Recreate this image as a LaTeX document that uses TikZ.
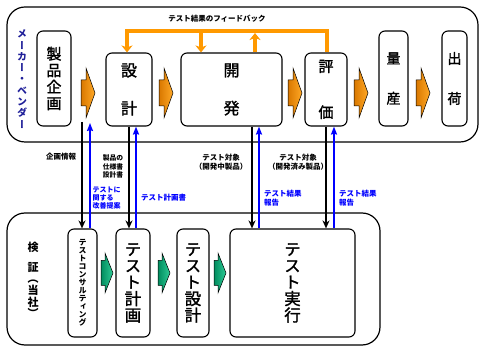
\documentclass[tikz,border=0pt]{standalone}
\usepackage{fontspec}
\setmainfont{Noto Sans CJK JP}
\newfontfamily\jpv{Noto Sans CJK JP}[RawFeature=+vert]
\newfontfamily\jpm{Noto Sans CJK JP}[FakeBold=1.6]
\newfontfamily\jpmv{Noto Sans CJK JP}[FakeBold=1.6,RawFeature=+vert]
\usetikzlibrary{arrows.meta}
\definecolor{orangec}{HTML}{FF9900}
\definecolor{odark}{HTML}{D97800}
\definecolor{olight}{HTML}{FFA826}
\definecolor{gdark}{HTML}{008C5E}
\definecolor{glight}{HTML}{2FCB96}
\definecolor{bluec}{HTML}{0000FF}
\definecolor{navyc}{HTML}{1F1F99}
\tikzset{
  pics/oarr/.style={code={
    \shade[left color=odark,right color=olight,draw=black,line width=0.5pt]
      (-7,-13) -- (-2,-13) -- (-2,-25) -- (7,0) -- (-2,25) -- (-2,13) -- (-7,13) -- cycle;}},
  pics/garr/.style={code={
    \shade[left color=gdark,right color=glight,draw=black,line width=0.5pt]
      (-6,-12.5) -- (-2,-12.5) -- (-2,-20) -- (6,0) -- (-2,20) -- (-2,12.5) -- (-6,12.5) -- cycle;}}
}
\begin{document}
\begin{tikzpicture}[x=1pt,y=-1pt,
  box/.style={draw,line width=1.1pt,rounded corners=6pt,inner sep=0pt,align=center},
  cont/.style={draw,line width=1.2pt,rounded corners=18pt,inner sep=0pt},
  blk/.style={line width=1.6pt,-{Stealth[length=8pt,width=7pt,inset=2.5pt]}},
  blu/.style={line width=1.6pt,draw=bluec,-{Stealth[length=8pt,width=6pt,inset=1pt]},color=bluec},
  fb/.style={draw=orangec,line width=3.5pt},
  fbarr/.style={fb,-{Stealth[length=7pt,width=11pt,inset=2pt]},color=orangec},
  lab/.style={font=\bfseries\fontsize{7.5}{9}\selectfont,align=center,inner sep=0pt},
  blab/.style={font=\bfseries\fontsize{7}{8}\selectfont,align=left,inner sep=0pt,text=bluec},
  vt/.style={inner sep=0pt,align=center}]
\useasboundingbox (0,0) rectangle (485,352);
% containers
\node[cont,minimum width=471,minimum height=135] (maker) at (242.5,74.5) {};
\node[cont,minimum width=373,minimum height=132] (kensho) at (193.5,279) {};
% container labels
\node[vt,text=navyc,font=\jpv\bfseries\fontsize{10}{11.3}\selectfont] (mlab) at (22,79)
  {メ\\ー\\カ\\ー\\・\\ベ\\ン\\ダ\\ー};
\node[vt,font=\jpv\bfseries\fontsize{11}{20}\selectfont] (klab1) at (33,257) {検\\証};
\node[vt,font=\jpv\bfseries\fontsize{11}{11.7}\selectfont] (klab2) at (33,299) {（\\当\\社\\）};
% top boxes
\node[box,minimum width=34,minimum height=95,font=\jpmv\fontsize{15}{16.5}\selectfont] (seihin) at (54,78.5) {製\\品\\企\\画};
\node[box,minimum width=46,minimum height=73,font=\jpm\fontsize{16}{38}\selectfont] (sekkei) at (129,89.5) {設\\計};
\node[box,minimum width=101,minimum height=73,font=\jpm\fontsize{16}{38}\selectfont] (kaihatsu) at (231.5,89.5) {開\\発};
\node[box,minimum width=42,minimum height=73,font=\jpm\fontsize{15}{46}\selectfont] (hyouka) at (326,89.5) {評\\価};
\node[box,minimum width=29,minimum height=95,font=\jpm\fontsize{14}{40}\selectfont] (ryousan) at (393.5,78.5) {量\\産};
\node[box,minimum width=25,minimum height=95,font=\jpm\fontsize{14}{40}\selectfont] (shukka) at (454.5,78.5) {出\\荷};
% orange arrows
\pic at (88,93) {oarr};
\pic at (166,93) {oarr};
\pic at (295,93) {oarr};
\pic at (361,93) {oarr};
\pic at (423,93) {oarr};
% bottom boxes
\node[box,minimum width=29,minimum height=108,font=\jpv\bfseries\fontsize{8}{8}\selectfont] (consult) at (82.5,283) {テ\\ス\\ト\\コ\\ン\\サ\\ル\\テ\\ィ\\ン\\グ};
\node[box,minimum width=34,minimum height=108,font=\jpmv\fontsize{16.5}{16.5}\selectfont] (tkeikaku) at (133,283) {テ\\ス\\ト\\計\\画};
\node[box,minimum width=32,minimum height=108,font=\jpmv\fontsize{16.5}{16.5}\selectfont] (tsekkei) at (193,283) {テ\\ス\\ト\\設\\計};
\node[box,minimum width=125,minimum height=108,font=\jpmv\fontsize{16.5}{16.5}\selectfont] (tjikkou) at (292.5,283) {テ\\ス\\ト\\実\\行};
% green arrows
\pic at (107,273) {garr};
\pic at (164,273) {garr};
\pic at (220,273) {garr};
% feedback
\coordinate (fbR) at (327,31);
\coordinate (fbL) at (127,31);
\coordinate (fbK) at (201,31);
\coordinate (fbU) at (255,33);
\draw[fbarr] ([xshift=1pt]hyouka.north) -- ([xshift=1pt]hyouka.north |- fbR) -- (fbL) -- (fbL |- sekkei.north);
\draw[fbarr] (fbK) -- (fbK |- kaihatsu.north);
\draw[fbarr] (fbU |- kaihatsu.north) -- (fbU);
\node[lab] (fblab) at (217,19) {テスト結果のフィードバック};
% vertical links
\coordinate (b1) at (82,122);
\coordinate (u1) at (90,123);
\draw[blk] (b1) -- (b1 |- consult.north);
\draw[blu] (u1 |- consult.north) -- (u1);
\draw[blk] (sekkei.south) -- (sekkei.south |- tkeikaku.north);
\draw[blu] ([xshift=7pt]sekkei.south |- tkeikaku.north) -- ([xshift=7pt]sekkei.south);
\draw[blk] ([xshift=20.5pt]kaihatsu.south) -- ([xshift=20.5pt]kaihatsu.south |- tjikkou.north);
\draw[blu] ([xshift=27.5pt]kaihatsu.south |- tjikkou.north) -- ([xshift=27.5pt]kaihatsu.south);
\draw[blk] (hyouka.south) -- (hyouka.south |- tjikkou.north);
\draw[blu] ([xshift=8pt]hyouka.south |- tjikkou.north) -- ([xshift=8pt]hyouka.south);
% labels
\node[lab] (l1) at (61,157) {企画情報};
\node[lab,font=\bfseries\fontsize{6.8}{8.5}\selectfont] (l2) at (113,166.5) {製品の\\仕様書\\設計書};
\node[lab] (l3) at (221,162) {テスト対象\\（開発中製品）};
\node[lab] (l4) at (298,162) {テスト対象\\（開発済み製品）};
\node[blab,anchor=west] (b1l) at (92.5,198) {テストに\\関する\\改善提案};
\node[blab,anchor=west,font=\bfseries\fontsize{7.5}{8}\selectfont] (b2l) at (141,198) {テスト計画書};
\node[blab,anchor=west,font=\bfseries\fontsize{7.5}{9}\selectfont] (b3l) at (264,198.5) {テスト結果\\報告};
\node[blab,anchor=west,font=\bfseries\fontsize{7.5}{9}\selectfont] (b4l) at (339,198.5) {テスト結果\\報告};
\end{tikzpicture}
\end{document}
